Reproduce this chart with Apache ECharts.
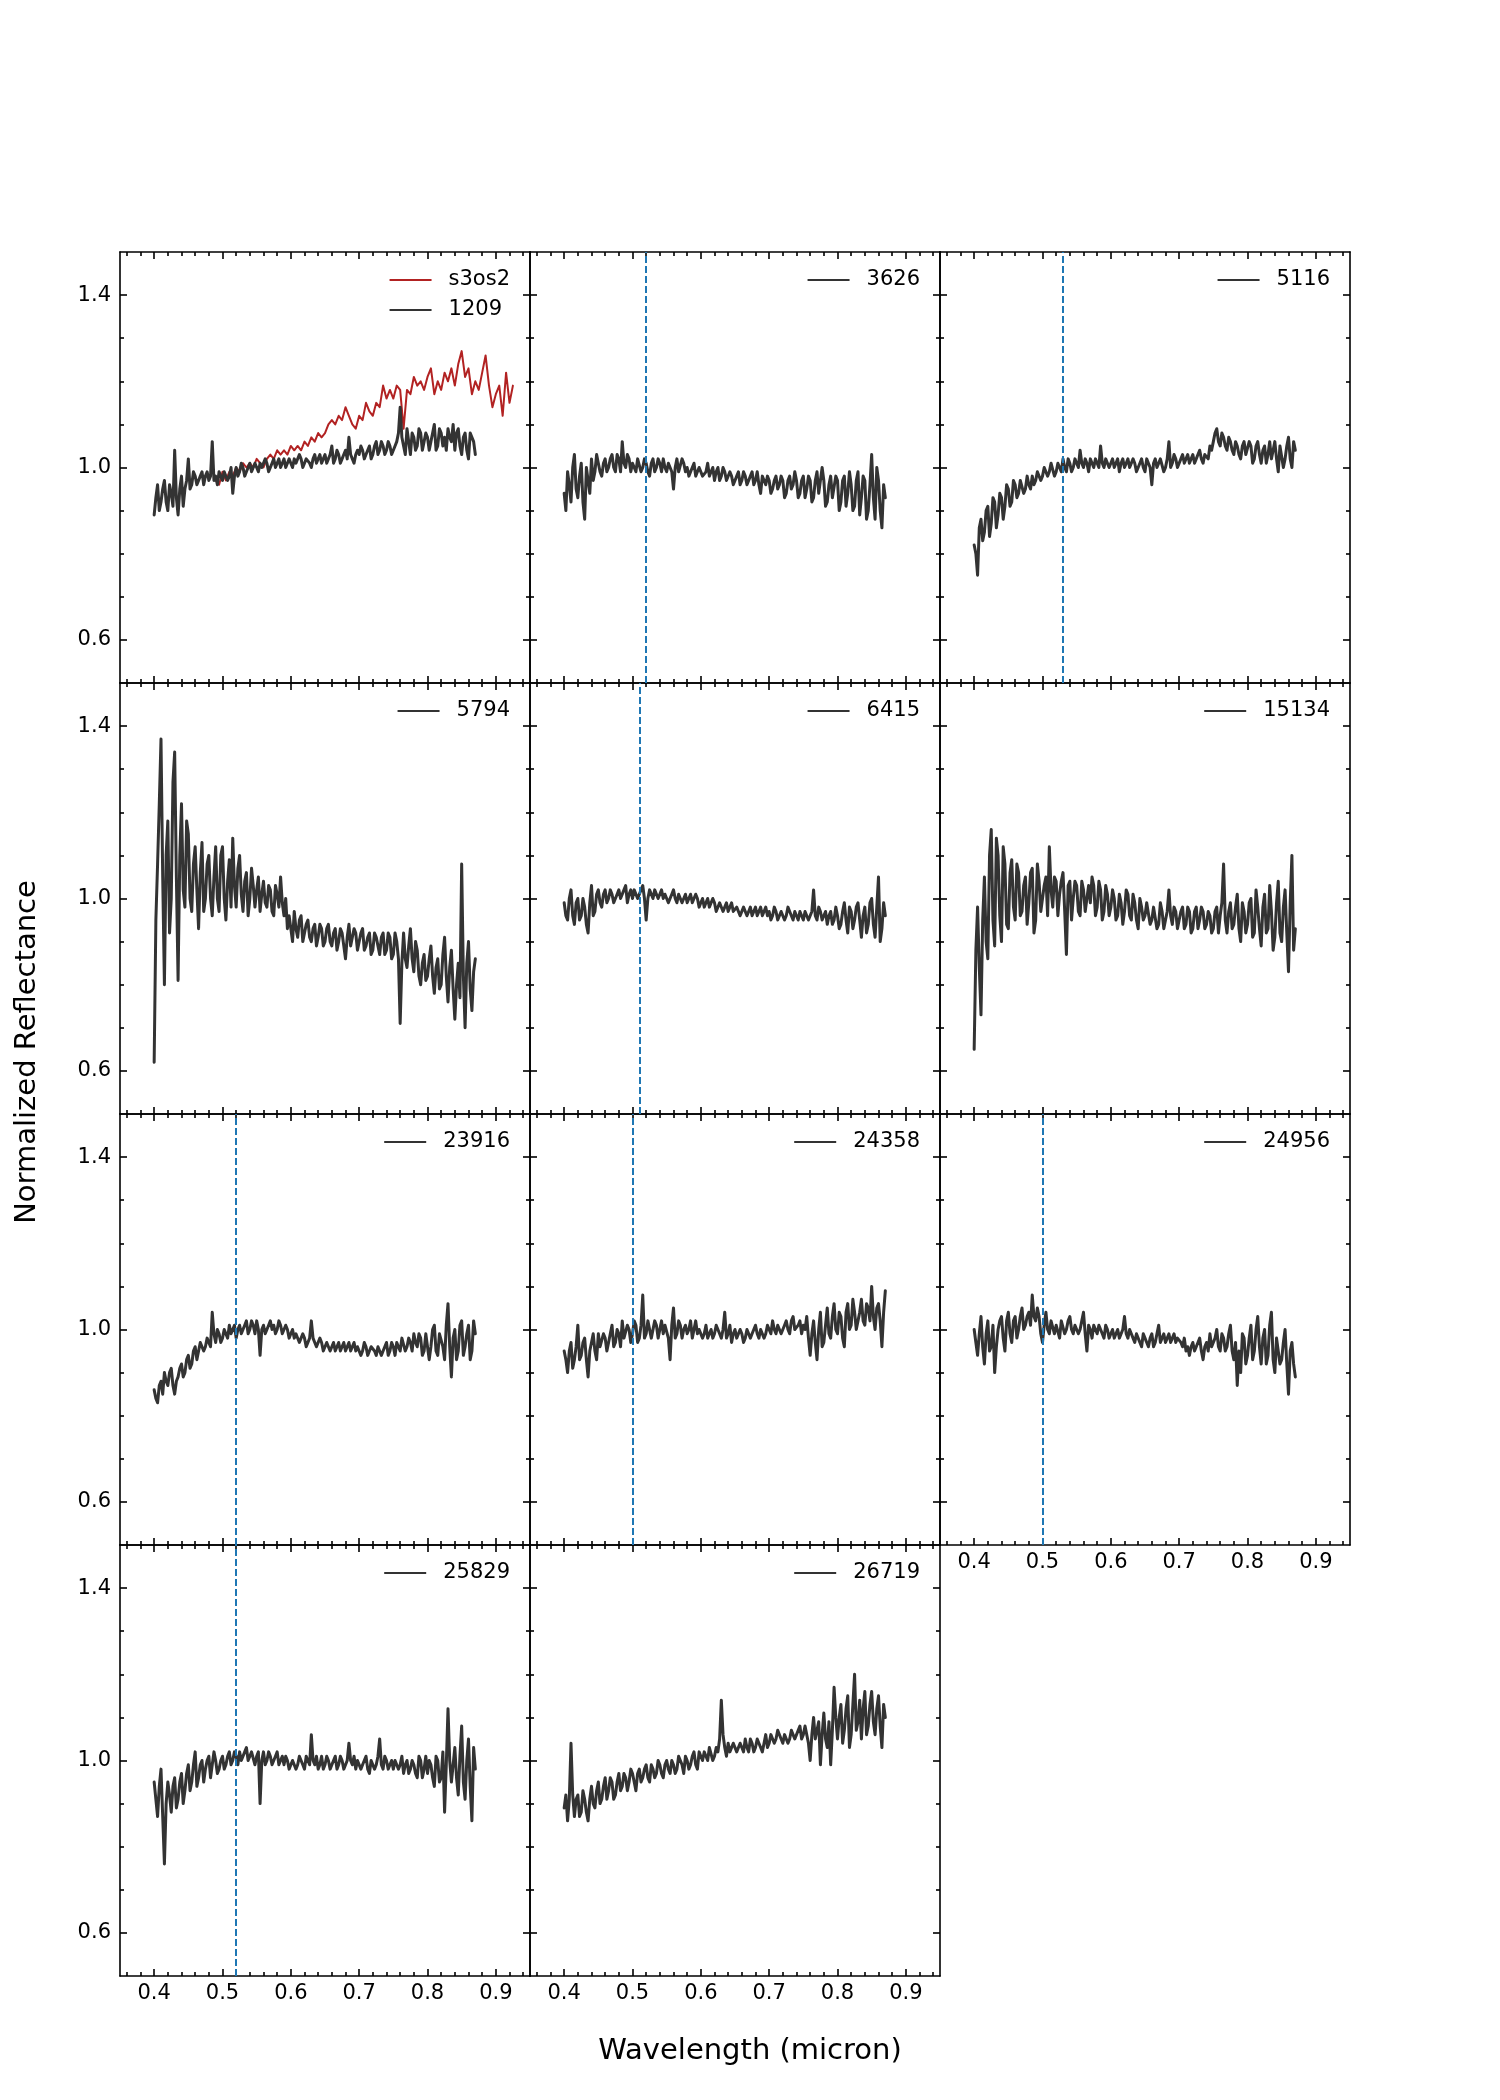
<!DOCTYPE html>
<html><head><meta charset="utf-8">
<script src="https://cdn.jsdelivr.net/npm/echarts@6/dist/echarts.min.js"></script>
<style>html,body{margin:0;padding:0;background:#fff}#c{width:1500px;height:2100px}</style>
</head><body><div id="c"></div>
<script>
// ---------- data ----------
// main wavelength samples (micron)
const WAVE = [
0.400,0.405,0.410,0.415,0.420,0.425,0.430,0.435,0.440,0.445,
0.450,0.455,0.460,0.465,0.470,0.475,0.480,0.485,0.490,0.495,
0.500,0.505,0.510,0.515,0.520,0.525,0.530,0.535,0.540,0.545,
0.550,0.555,0.560,0.565,0.570,0.575,0.580,0.585,0.590,0.595,
0.600,0.605,0.610,0.615,0.620,0.625,0.630,0.635,0.640,0.645,
0.650,0.655,0.660,0.665,0.670,0.675,0.680,0.685,0.690,0.695,
0.700,0.705,0.710,0.715,0.720,0.725,0.730,0.735,0.740,0.745,
0.750,0.755,0.760,0.765,0.770,0.775,0.780,0.785,0.790,0.795,
0.800,0.805,0.810,0.815,0.820,0.825,0.830,0.835,0.840,0.845,
0.850,0.855,0.860,0.865,0.870];
// in-between wavelength samples (micron)
const WAVE_MID = [
0.4025,0.4075,0.4125,0.4175,0.4225,0.4275,0.4325,0.4375,0.4425,0.4475,
0.4525,0.4575,0.4625,0.4675,0.4725,0.4775,0.4825,0.4875,0.4925,0.4975,
0.5025,0.5075,0.5125,0.5175,0.5225,0.5275,0.5325,0.5375,0.5425,0.5475,
0.5525,0.5575,0.5625,0.5675,0.5725,0.5775,0.5825,0.5875,0.5925,0.5975,
0.6025,0.6075,0.6125,0.6175,0.6225,0.6275,0.6325,0.6375,0.6425,0.6475,
0.6525,0.6575,0.6625,0.6675,0.6725,0.6775,0.6825,0.6875,0.6925,0.6975,
0.7025,0.7075,0.7125,0.7175,0.7225,0.7275,0.7325,0.7375,0.7425,0.7475,
0.7525,0.7575,0.7625,0.7675,0.7725,0.7775,0.7825,0.7875,0.7925,0.7975,
0.8025,0.8075,0.8125,0.8175,0.8225,0.8275,0.8325,0.8375,0.8425,0.8475,
0.8525,0.8575,0.8625,0.8675];

const WAVE_S3OS2 = [
0.490,0.495,0.500,0.505,0.510,0.515,0.520,0.525,0.530,0.535,
0.540,0.545,0.550,0.555,0.560,0.565,0.570,0.575,0.580,0.585,
0.590,0.595,0.600,0.605,0.610,0.615,0.620,0.625,0.630,0.635,
0.640,0.645,0.650,0.655,0.660,0.665,0.670,0.675,0.680,0.685,
0.690,0.695,0.700,0.705,0.710,0.715,0.720,0.725,0.730,0.735,
0.740,0.745,0.750,0.755,0.760,0.765,0.770,0.775,0.780,0.785,
0.790,0.795,0.800,0.805,0.810,0.815,0.820,0.825,0.830,0.835,
0.840,0.845,0.850,0.855,0.860,0.865,0.870,0.875,0.880,0.885,
0.890,0.895,0.900,0.905,0.910,0.915,0.920,0.925];
const S3OS2 = [
0.97,0.96,0.99,0.97,0.99,0.98,1.00,0.99,1.01,1.00,
1.01,1.00,1.02,1.01,1.00,1.02,1.03,1.02,1.04,1.03,
1.04,1.03,1.05,1.04,1.05,1.04,1.06,1.05,1.07,1.06,
1.08,1.07,1.08,1.10,1.11,1.10,1.12,1.11,1.14,1.12,
1.10,1.09,1.12,1.11,1.15,1.13,1.12,1.15,1.14,1.19,
1.16,1.18,1.16,1.19,1.18,1.09,1.18,1.17,1.21,1.19,
1.20,1.18,1.21,1.23,1.17,1.20,1.18,1.22,1.20,1.23,
1.19,1.24,1.27,1.21,1.23,1.17,1.20,1.18,1.22,1.26,
1.19,1.14,1.17,1.19,1.12,1.22,1.15,1.19];

const A1209 = [
0.89,0.96,0.92,0.97,0.90,0.94,1.04,0.89,0.98,0.95,
1.02,0.96,0.98,0.97,0.99,0.98,0.97,1.06,0.98,0.99,
0.97,0.99,0.98,0.94,1.00,0.99,1.00,0.99,1.01,1.00,
1.00,1.01,1.00,1.01,1.00,1.02,1.01,1.00,1.02,1.01,
1.01,1.02,1.01,1.02,1.01,1.02,1.00,1.03,1.02,1.01,
1.03,1.02,1.05,1.02,1.03,1.02,1.04,1.07,1.02,1.03,
1.03,1.04,1.03,1.05,1.03,1.06,1.04,1.05,1.04,1.05,
1.04,1.06,1.14,1.05,1.09,1.03,1.07,1.05,1.08,1.06,
1.07,1.06,1.10,1.05,1.08,1.07,1.09,1.06,1.04,1.09,
1.03,1.08,1.02,1.07,1.03];
const M1209 = [
0.93,0.90,0.95,0.92,0.96,0.91,0.93,0.95,0.91,0.97,
0.95,0.99,0.96,0.98,0.96,0.99,0.98,0.97,0.96,0.98,
0.99,0.97,1.00,0.98,0.98,1.01,0.98,1.00,0.99,1.01,
0.99,1.00,1.02,0.99,1.01,1.00,1.02,1.01,1.00,1.02,
1.00,1.01,1.03,1.00,1.02,1.01,1.02,1.01,1.03,1.02,
1.01,1.03,1.01,1.04,1.01,1.03,1.02,1.03,1.01,1.04,
1.05,1.02,1.04,1.02,1.05,1.03,1.06,1.03,1.06,1.03,
1.05,1.08,1.07,1.03,1.06,1.08,1.04,1.09,1.04,1.08,
1.04,1.08,1.04,1.09,1.05,1.04,1.07,1.10,1.08,1.05,
1.07,1.04,1.08,1.06];

const A3626 = [
0.94,0.99,0.92,1.03,0.93,1.01,0.88,0.97,1.02,0.99,
1.01,0.98,1.02,1.00,1.03,0.99,1.02,1.06,1.00,1.02,
1.01,0.99,1.02,1.00,1.01,0.98,1.02,1.00,1.01,1.02,
0.99,1.01,0.95,1.02,0.99,1.01,1.00,0.98,1.01,0.99,
1.00,0.98,1.01,0.99,0.97,1.00,0.98,0.99,0.97,0.98,
0.97,0.99,0.97,0.98,0.96,0.99,0.97,0.96,0.98,0.96,
0.97,0.95,0.98,0.96,0.97,0.94,0.98,0.96,0.97,0.94,
0.98,0.95,0.97,0.93,0.99,0.94,0.97,0.92,0.98,0.93,
0.97,0.92,0.98,0.94,0.96,0.91,0.99,0.93,0.97,0.90,
1.03,0.88,0.97,0.86,0.93];
const M3626 = [
0.90,0.96,1.00,0.95,0.98,0.92,1.00,0.94,0.97,1.03,
0.99,1.01,0.99,1.02,1.00,1.03,0.99,1.01,1.03,0.99,
1.00,1.02,0.99,1.02,0.99,1.01,0.99,1.02,0.99,1.00,
1.01,0.99,1.00,0.99,1.02,0.99,0.98,1.00,0.98,1.00,
0.98,0.99,0.98,1.00,0.99,0.97,1.00,0.97,0.99,0.96,
0.98,0.96,0.99,0.96,0.98,0.96,0.99,0.94,0.97,0.98,
0.94,0.97,0.95,0.98,0.93,0.97,0.95,0.99,0.93,0.97,
0.93,0.98,0.92,0.97,0.94,1.00,0.91,0.96,0.93,0.98,
0.90,0.97,0.91,0.99,0.90,0.97,0.89,0.98,0.88,0.96,
0.93,1.00,0.90,0.96];

const A5116 = [
0.82,0.75,0.88,0.85,0.91,0.87,0.92,0.89,0.93,0.91,
0.95,0.92,0.96,0.94,0.97,0.95,0.96,0.98,0.97,0.99,
0.98,1.00,0.99,1.01,0.99,1.00,1.02,0.99,1.01,1.00,
1.01,1.04,1.00,1.01,1.02,1.00,1.01,1.05,1.00,1.02,
1.01,1.00,1.02,1.01,1.00,1.02,1.00,1.01,1.00,1.02,
0.99,1.01,0.96,1.02,1.01,1.02,1.00,1.06,1.01,1.02,
1.01,1.03,1.02,1.01,1.03,1.02,1.04,1.01,1.03,1.05,
1.06,1.09,1.05,1.07,1.04,1.06,1.03,1.05,1.02,1.06,
1.03,1.05,1.02,1.06,1.01,1.05,1.03,1.02,1.06,0.99,
1.05,1.02,1.07,1.00,1.04];
const M5116 = [
0.80,0.86,0.83,0.90,0.84,0.93,0.86,0.94,0.88,0.96,
0.91,0.97,0.93,0.97,0.94,0.98,0.95,0.96,0.99,0.97,
1.00,0.98,1.01,0.98,1.01,0.99,1.00,1.02,0.99,1.02,
1.00,1.01,1.02,0.99,1.01,1.02,1.00,1.01,1.02,1.00,
1.02,1.01,0.99,1.02,1.01,1.00,1.02,0.99,1.01,1.00,
1.02,1.00,1.01,1.00,1.02,0.99,1.02,1.00,1.03,1.00,
1.02,1.01,1.03,1.02,1.01,1.03,1.02,1.03,1.02,1.04,
1.08,1.06,1.08,1.05,1.07,1.04,1.06,1.03,1.05,1.03,
1.06,1.01,1.05,1.03,1.04,1.01,1.06,1.04,1.02,1.05,
1.00,1.05,1.02,1.06];

const A5794 = [
0.62,1.08,1.37,0.80,1.18,1.00,1.34,0.81,1.22,0.98,
1.15,0.97,1.12,0.93,1.13,1.00,1.10,0.96,1.12,0.97,
1.12,0.95,1.09,1.14,0.98,1.10,0.97,1.06,1.00,1.03,
1.02,0.97,1.04,0.98,1.02,0.96,1.01,1.05,0.96,0.93,
0.93,0.97,0.91,0.96,0.92,0.95,0.90,0.94,0.91,0.93,
0.90,0.94,0.89,0.93,0.90,0.92,0.86,0.94,0.89,0.92,
0.88,0.93,0.89,0.92,0.88,0.91,0.87,0.92,0.88,0.91,
0.87,0.90,0.71,0.92,0.84,0.93,0.83,0.88,0.80,0.87,
0.82,0.89,0.78,0.86,0.80,0.91,0.76,0.88,0.72,0.85,
1.08,0.70,0.90,0.74,0.86];
const M5794 = [
0.95,1.22,1.05,1.10,0.92,1.27,1.05,1.10,1.02,1.18,
1.00,1.08,1.02,1.06,0.97,1.08,1.00,1.05,1.00,1.10,
1.00,1.04,0.98,1.03,1.07,1.01,1.04,0.96,1.07,0.98,
1.05,1.01,0.99,1.03,0.97,1.03,0.98,0.99,1.00,0.96,
0.90,0.93,0.95,0.90,0.94,0.91,0.93,0.89,0.94,0.89,
0.93,0.90,0.92,0.88,0.93,0.89,0.91,0.89,0.93,0.88,
0.92,0.88,0.91,0.87,0.92,0.89,0.91,0.87,0.92,0.86,
0.92,0.86,0.85,0.86,0.89,0.86,0.90,0.82,0.85,0.81,
0.86,0.82,0.84,0.79,0.87,0.82,0.84,0.79,0.80,0.77,
0.82,0.85,0.79,0.83];

const A6415 = [
0.99,0.95,1.02,0.94,1.00,0.96,0.98,0.92,1.03,0.97,
1.02,0.98,1.02,1.00,1.01,0.99,1.02,1.00,1.03,1.01,
1.00,1.02,1.01,1.03,0.95,1.02,1.00,1.02,1.01,1.00,
1.01,1.00,1.02,0.99,1.01,1.00,0.99,1.01,0.99,1.00,
0.99,0.98,1.00,0.98,0.99,0.97,0.99,0.98,0.97,0.99,
0.97,0.98,0.96,0.98,0.97,0.96,0.98,0.97,0.96,0.98,
0.97,0.96,0.97,0.95,0.97,0.96,0.97,0.95,0.96,0.97,
0.95,0.97,0.96,1.02,0.95,0.97,0.96,0.94,0.97,0.95,
0.96,0.94,0.99,0.92,0.97,0.95,0.99,0.91,0.98,0.94,
1.00,0.91,1.05,0.93,0.96];
const M6415 = [
0.96,1.00,0.96,0.99,0.95,1.00,0.94,0.99,0.96,1.01,
0.99,1.01,0.99,1.02,0.99,1.01,1.00,1.02,0.99,1.02,
1.02,1.00,1.02,1.00,1.00,1.01,1.02,1.00,1.02,1.01,
0.99,1.01,1.00,1.01,0.99,1.01,1.00,0.99,1.01,0.98,
1.00,0.99,0.98,1.00,0.97,0.99,0.97,0.99,0.98,0.97,
0.98,0.96,0.98,0.96,0.98,0.97,0.96,0.98,0.97,0.96,
0.95,0.98,0.95,0.97,0.95,0.98,0.96,0.97,0.95,0.96,
0.97,0.95,0.97,0.96,0.98,0.95,0.97,0.96,0.94,0.98,
0.93,0.97,0.95,0.98,0.93,0.98,0.95,0.96,0.92,0.99,
0.94,0.98,0.90,0.99];

const A15134 = [
0.65,0.98,0.73,1.05,0.86,1.16,0.89,1.10,0.90,1.08,
0.93,1.09,0.95,1.06,0.97,1.05,0.99,1.07,0.95,1.04,
0.97,1.05,1.12,0.98,1.04,1.01,1.06,0.87,1.04,1.00,
1.03,0.96,1.02,1.00,0.99,1.03,0.98,1.02,0.97,1.01,
0.98,1.00,0.96,0.99,0.97,1.01,0.95,0.99,0.93,0.98,
0.96,0.99,0.95,0.98,0.94,0.97,0.95,1.02,0.94,0.97,
0.95,0.98,0.94,0.97,0.93,0.98,0.95,0.97,0.94,0.96,
0.93,0.98,0.96,1.08,0.92,0.99,0.94,1.01,0.90,0.97,
0.94,1.00,0.92,0.98,0.89,1.01,0.93,0.97,0.91,1.04,
0.90,1.02,0.83,1.10,0.93];
const M15134 = [
0.88,0.84,0.95,0.90,1.10,0.95,1.14,0.96,1.12,0.94,
1.06,0.98,1.08,0.96,1.03,0.94,1.06,0.92,1.08,0.97,
1.03,0.96,1.02,1.05,0.96,1.04,0.97,1.03,0.95,1.04,
0.97,1.04,0.97,1.03,1.05,0.96,1.04,0.95,1.03,0.96,
1.02,0.95,1.01,0.94,1.02,0.96,1.01,0.95,1.00,0.95,
0.99,0.94,0.98,0.93,0.99,0.93,0.97,0.96,0.98,0.93,
0.97,0.93,0.98,0.92,0.97,0.93,0.98,0.93,0.97,0.92,
0.97,0.92,0.99,0.95,0.97,0.93,0.98,0.93,0.99,0.92,
0.99,0.91,1.02,0.93,0.98,0.92,1.03,0.88,0.99,0.92,
0.98,0.92,0.99,0.88];

const A23916 = [
0.86,0.83,0.88,0.90,0.87,0.91,0.85,0.89,0.92,0.90,
0.94,0.92,0.96,0.95,0.97,0.96,0.98,1.04,0.97,0.99,
0.98,1.00,1.01,0.99,0.98,1.01,1.00,1.02,1.00,1.01,
1.02,0.94,1.01,1.00,1.02,1.01,1.00,1.01,0.99,1.00,
0.99,0.98,0.99,0.98,0.98,0.97,1.02,0.97,0.96,0.97,
0.96,0.97,0.96,0.95,0.97,0.96,0.95,0.97,0.96,0.95,
0.96,0.95,0.96,0.95,0.96,0.94,0.96,0.95,0.97,0.95,
0.96,0.97,0.95,0.98,0.96,0.97,0.99,0.96,0.98,0.95,
0.99,0.96,1.01,0.94,0.99,0.93,1.06,0.89,1.00,0.95,
1.02,0.96,1.01,0.95,0.99];
const M23916 = [
0.84,0.87,0.85,0.88,0.90,0.87,0.88,0.91,0.89,0.93,
0.91,0.95,0.93,0.97,0.95,0.98,0.96,0.99,1.00,0.97,
1.00,0.98,0.99,1.01,1.00,0.99,1.01,0.99,1.02,0.99,
1.00,1.00,0.99,1.01,1.00,0.99,1.02,0.99,1.01,0.98,
1.00,0.99,0.97,0.99,0.96,0.98,0.98,0.96,0.98,0.95,
0.97,0.95,0.97,0.96,0.95,0.97,0.96,0.95,0.97,0.96,
0.94,0.97,0.94,0.96,0.95,0.96,0.94,0.96,0.94,0.97,
0.94,0.96,0.98,0.95,0.98,0.95,0.97,0.99,0.94,0.99,
0.93,1.00,0.95,0.99,0.96,1.01,0.96,0.98,0.93,1.01,
0.94,0.99,0.93,1.02];

const A24358 = [
0.95,0.90,0.97,0.93,1.01,0.94,0.98,0.89,0.97,0.95,
0.99,0.96,0.98,0.97,1.01,0.97,0.99,1.02,0.98,1.00,
0.99,1.01,0.98,1.08,0.99,1.02,0.98,1.01,1.00,0.99,
1.01,0.93,1.05,0.99,1.01,1.00,0.99,1.02,1.00,0.99,
1.00,0.99,0.98,1.00,0.99,1.01,0.98,1.04,0.99,0.97,
1.00,0.98,0.99,0.98,1.00,0.99,1.01,0.98,1.00,0.99,
1.00,1.02,0.99,1.01,1.00,1.02,0.99,1.03,1.00,1.02,
1.01,1.03,0.94,1.02,0.93,1.04,0.97,1.05,0.98,1.06,
0.99,1.03,0.96,1.06,1.01,1.04,1.02,1.07,1.01,1.05,
1.10,1.00,1.06,0.96,1.09];
const M24358 = [
0.93,0.95,0.91,0.96,0.93,0.97,0.93,0.95,0.99,0.93,
0.96,0.99,0.95,0.99,0.96,1.00,0.96,0.98,1.01,0.97,
1.02,0.97,1.01,0.98,1.02,0.98,1.02,0.98,1.02,1.01,
0.98,1.01,0.98,1.02,0.98,1.01,1.00,0.98,1.02,1.00,
0.98,1.01,0.99,0.98,1.01,0.99,1.00,0.98,1.01,0.99,
0.98,1.00,0.97,1.00,0.98,1.00,0.99,1.00,0.98,1.01,
0.99,1.00,1.01,0.99,1.01,1.00,1.02,1.00,1.01,0.99,
1.00,0.98,0.99,0.97,1.00,0.96,1.01,0.99,1.03,1.00,
1.04,0.98,1.04,1.00,1.07,1.00,1.04,1.02,1.06,1.02,
1.03,1.05,1.02,1.04];

const A24956 = [
1.00,0.94,1.03,0.92,1.02,0.96,0.90,1.00,1.03,0.95,
1.04,0.97,1.03,1.00,1.05,1.01,1.04,1.08,1.02,1.03,
0.97,1.04,0.99,1.02,1.01,0.98,1.02,1.00,1.03,0.99,
1.01,1.00,1.04,0.95,1.00,1.01,0.99,1.00,0.98,1.00,
0.99,0.98,1.00,0.98,1.03,0.98,0.99,0.97,0.98,0.96,
0.98,0.96,0.99,0.97,1.01,0.98,0.97,0.99,0.98,0.97,
0.98,0.96,0.95,0.94,0.97,0.95,0.98,0.93,0.97,0.99,
0.96,1.00,0.95,0.98,0.96,1.01,0.93,0.87,0.90,0.98,
0.94,1.01,0.95,1.03,0.92,1.00,0.94,1.04,0.90,0.98,
0.93,1.00,0.85,0.97,0.89];
const M24956 = [
0.97,0.99,0.96,0.99,0.95,1.01,0.96,1.02,0.98,1.02,
0.99,1.02,0.98,1.03,1.00,1.03,1.01,1.03,1.05,0.99,
1.01,1.00,1.02,0.99,1.01,1.02,0.99,1.02,1.00,1.01,
0.99,1.02,0.99,1.01,0.98,1.00,1.01,0.99,1.01,0.98,
1.00,0.99,0.98,1.00,0.99,1.00,0.98,0.99,0.97,0.99,
0.97,0.98,0.96,0.99,0.97,0.99,0.98,0.97,0.99,0.98,
0.97,0.98,0.96,0.96,0.95,0.97,0.95,0.96,0.95,0.96,
0.98,0.96,0.99,0.95,0.99,0.95,0.97,0.95,0.99,0.92,
0.98,0.93,1.00,0.96,0.98,0.92,1.01,0.93,0.98,0.92,
0.97,0.92,0.95,0.92];

const A25829 = [
0.95,0.87,0.98,0.76,0.95,0.88,0.96,0.91,0.97,0.93,
0.99,0.95,1.02,0.96,1.00,0.98,1.01,0.99,1.00,0.98,
1.01,0.99,1.02,1.00,1.01,1.02,1.00,1.03,1.01,1.02,
1.01,0.90,1.02,1.00,1.01,0.99,1.02,1.00,0.99,1.00,
0.98,1.00,0.99,1.01,0.98,1.00,1.06,0.99,0.98,1.01,
0.99,1.00,0.98,1.01,0.99,1.00,0.98,1.04,0.99,0.98,
1.00,0.99,1.01,0.97,1.00,0.99,1.05,0.98,1.00,0.99,
0.98,1.00,0.99,0.97,1.00,0.98,0.99,0.96,1.00,0.98,
0.97,0.99,0.94,1.00,0.96,0.88,1.12,0.95,1.03,0.92,
1.08,0.91,1.05,0.86,0.98];
const M25829 = [
0.91,0.94,0.87,0.90,0.92,0.94,0.89,0.95,0.90,0.97,
0.93,0.99,0.94,0.99,0.95,1.00,0.96,1.02,0.97,1.00,
0.98,1.01,0.99,1.02,0.99,1.00,1.02,1.00,1.02,0.99,
1.02,1.00,0.99,1.02,0.99,1.01,0.99,1.01,1.01,0.98,
1.00,0.98,1.01,0.99,1.01,0.99,1.00,1.01,0.99,0.98,
1.01,0.98,1.00,0.98,1.01,0.98,1.00,1.00,1.01,1.00,
0.98,1.00,0.98,1.00,0.98,1.01,0.99,1.01,0.98,1.00,
1.00,0.98,1.01,0.99,0.97,1.00,0.97,1.01,0.96,1.01,
1.00,0.96,1.01,0.95,1.02,0.99,1.00,0.99,0.96,1.01,
0.95,1.00,0.94,1.03];

const A26719 = [
0.89,0.86,1.04,0.87,0.92,0.88,0.91,0.86,0.94,0.89,
0.95,0.91,0.96,0.93,0.95,0.92,0.97,0.94,0.96,0.95,
0.97,0.93,0.98,0.96,0.99,0.95,0.98,0.97,0.99,0.96,
1.00,0.97,0.99,0.98,1.01,0.97,1.00,0.99,1.02,0.98,
1.01,1.02,1.00,1.03,1.01,1.02,1.14,1.03,1.04,1.02,
1.04,1.02,1.03,1.05,1.02,1.04,1.03,1.05,1.02,1.06,
1.04,1.06,1.05,1.07,1.04,1.06,1.05,1.07,1.05,1.08,
1.06,1.08,1.00,1.10,1.07,0.99,1.11,1.03,0.99,1.17,
1.05,1.13,1.07,1.15,1.06,1.20,1.09,1.05,1.16,1.08,
1.16,1.06,1.15,1.03,1.10];
const M26719 = [
0.92,0.91,0.92,0.91,0.87,0.93,0.88,0.91,0.90,0.93,
0.90,0.94,0.91,0.96,0.91,0.95,0.93,0.97,0.93,0.98,
0.95,0.97,0.95,0.98,0.96,0.99,0.96,1.00,0.97,0.99,
0.98,1.00,0.97,1.01,0.99,1.01,0.98,1.01,0.99,1.02,
1.00,1.01,1.03,1.00,1.03,1.05,1.06,1.01,1.02,1.04,
1.02,1.04,1.02,1.03,1.05,1.02,1.05,1.03,1.04,1.03,
1.06,1.04,1.07,1.05,1.06,1.04,1.07,1.05,1.07,1.05,
1.08,1.04,1.06,1.05,1.09,1.06,1.05,1.09,1.07,1.10,
1.10,1.04,1.12,1.03,1.13,1.07,1.14,1.12,1.06,1.13,
1.09,1.12,1.08,1.13];

// dashed vertical marker positions (micron)
const MARKERS = {'3626':0.521,'5116':0.530,'6415':0.513,'23916':0.515,'24358':0.501,'24956':0.497,'25829':0.518};

// tick positions
const X_MAJOR = [0.4,0.5,0.6,0.7,0.8,0.9];
const X_MINOR = [0.36,0.38,0.42,0.44,0.46,0.48,0.52,0.54,0.56,0.58,0.62,0.64,0.66,0.68,0.72,0.74,0.76,0.78,0.82,0.84,0.86,0.88,0.92,0.94];
const Y_MAJOR = [0.6,1.0,1.4];
const Y_MINOR = [0.7,0.8,0.9,1.1,1.2,1.3];

// ---------- layout ----------
const FONT = 'DejaVu Sans';
const COL_LEFT = [120, 530, 940], ROW_TOP = [252, 683, 1114, 1545], PW = 410, PH = 431;
const BLACK = '#333333', RED = '#b22222', BLUE = '#1f77b4';

function interleave(main, mid) {
  const out = [];
  for (let i = 0; i < main.length; i++) {
    out.push([WAVE[i], main[i]]);
    if (mid && i < mid.length) out.push([WAVE_MID[i], mid[i]]);
  }
  return out;
}
function pairs(xs, ys) { return xs.map((w, i) => [w, ys[i]]); }

const panels = [
  [{name:'s3os2', data:pairs(WAVE_S3OS2, S3OS2), color:RED, width:2}, {name:'1209', data:interleave(A1209, M1209)}],
  [{name:'3626', data:interleave(A3626, M3626)}],
  [{name:'5116', data:interleave(A5116, M5116)}],
  [{name:'5794', data:interleave(A5794, M5794)}],
  [{name:'6415', data:interleave(A6415, M6415)}],
  [{name:'15134', data:interleave(A15134, M15134)}],
  [{name:'23916', data:interleave(A23916, M23916)}],
  [{name:'24358', data:interleave(A24358, M24358)}],
  [{name:'24956', data:interleave(A24956, M24956)}],
  [{name:'25829', data:interleave(A25829, M25829)}],
  [{name:'26719', data:interleave(A26719, M26719)}]
];
const X_LABEL_PANELS = [8, 9, 10];

function mkX(g, pos, ticks, len, line, label) {
  return {type:'value', gridIndex:g, position:pos, min:0.35, max:0.95,
    axisLine:{show:line, onZero:false, lineStyle:{color:'#000', width:1.6}},
    axisTick:{show:true, inside:true, length:len, customValues:ticks, lineStyle:{color:'#000', width:1.6}},
    axisLabel:{show:label, customValues:ticks, formatter:v=>Number(v).toFixed(1), fontSize:21, fontFamily:FONT, color:'#000', margin:7},
    splitLine:{show:false}, minorTick:{show:false}, axisPointer:{show:false}};
}
function mkY(g, pos, ticks, len, line, label) {
  return {type:'value', gridIndex:g, position:pos, min:0.5, max:1.5,
    axisLine:{show:line, onZero:false, lineStyle:{color:'#000', width:1.6}},
    axisTick:{show:true, inside:true, length:len, customValues:ticks, lineStyle:{color:'#000', width:1.6}},
    axisLabel:{show:label, customValues:ticks, formatter:v=>Number(v).toFixed(1), fontSize:21, fontFamily:FONT, color:'#000', margin:9},
    splitLine:{show:false}, minorTick:{show:false}, axisPointer:{show:false}};
}

const grid=[], xAxis=[], yAxis=[], series=[], legend=[];
panels.forEach((ser, k) => {
  const r = Math.floor(k/3), c = k%3;
  const left = COL_LEFT[c], top = ROW_TOP[r];
  grid.push({left:left, top:top, width:PW, height:PH, containLabel:false, outerBoundsMode:'none'});
  const xb = xAxis.length, yb = yAxis.length;
  const showX = X_LABEL_PANELS.indexOf(k) >= 0, showY = (c === 0);
  xAxis.push(mkX(k,'bottom',X_MAJOR,7,true,showX));
  xAxis.push(mkX(k,'bottom',X_MINOR,4,false,false));
  xAxis.push(mkX(k,'top',X_MAJOR,7,true,false));
  xAxis.push(mkX(k,'top',X_MINOR,4,false,false));
  yAxis.push(mkY(k,'left',Y_MAJOR,7,true,showY));
  yAxis.push(mkY(k,'left',Y_MINOR,4,false,false));
  yAxis.push(mkY(k,'right',Y_MAJOR,7,true,false));
  yAxis.push(mkY(k,'right',Y_MINOR,4,false,false));
  ser.forEach((s, si) => {
    const col = s.color || BLACK, w = s.width || 3;
    const o = {type:'line', name:s.name, xAxisIndex:xb, yAxisIndex:yb,
      data:s.data, showSymbol:false, symbol:'none',
      color:col, itemStyle:{color:col}, lineStyle:{color:col, width:w, join:'round', cap:'round'},
      emphasis:{disabled:true}, silent:true, animation:false, z:2+si};
    const m = MARKERS[s.name];
    if (m != null) {
      o.markLine = {symbol:['none','none'], silent:true, animation:false, label:{show:false},
        lineStyle:{color:BLUE, width:2, type:[7,3]}, emphasis:{disabled:true},
        data:[{xAxis:m}]};
    }
    series.push(o);
  });
  legend.push({show:true, orient:'vertical', align:'left', right:1500-(left+PW)+20, top:top+16,
    padding:0, itemGap:6, itemWidth:42, itemHeight:2, icon:'rect', selectedMode:false,
    data:ser.map(s=>s.name),
    textStyle:{fontSize:21, fontFamily:FONT, color:'#000', lineHeight:24, padding:[0,0,0,12]}});
});

const chart = echarts.init(document.getElementById('c'), null, {renderer:'canvas', width:1500, height:2100});
chart.setOption({
  backgroundColor:'#ffffff',
  animation:false,
  grid, xAxis, yAxis, series, legend,
  graphic:[
    {type:'text', x:750, y:2051, silent:true,
      style:{text:'Wavelength (micron)', fontSize:29, fontFamily:FONT, fill:'#000', align:'center', verticalAlign:'middle', textAlign:'center', textVerticalAlign:'middle'}},
    {type:'text', x:27, y:1052, rotation:Math.PI/2, silent:true,
      style:{text:'Normalized Reflectance', fontSize:29, fontFamily:FONT, fill:'#000', align:'center', verticalAlign:'middle', textAlign:'center', textVerticalAlign:'middle'}}
  ]
});
</script>
</body></html>
